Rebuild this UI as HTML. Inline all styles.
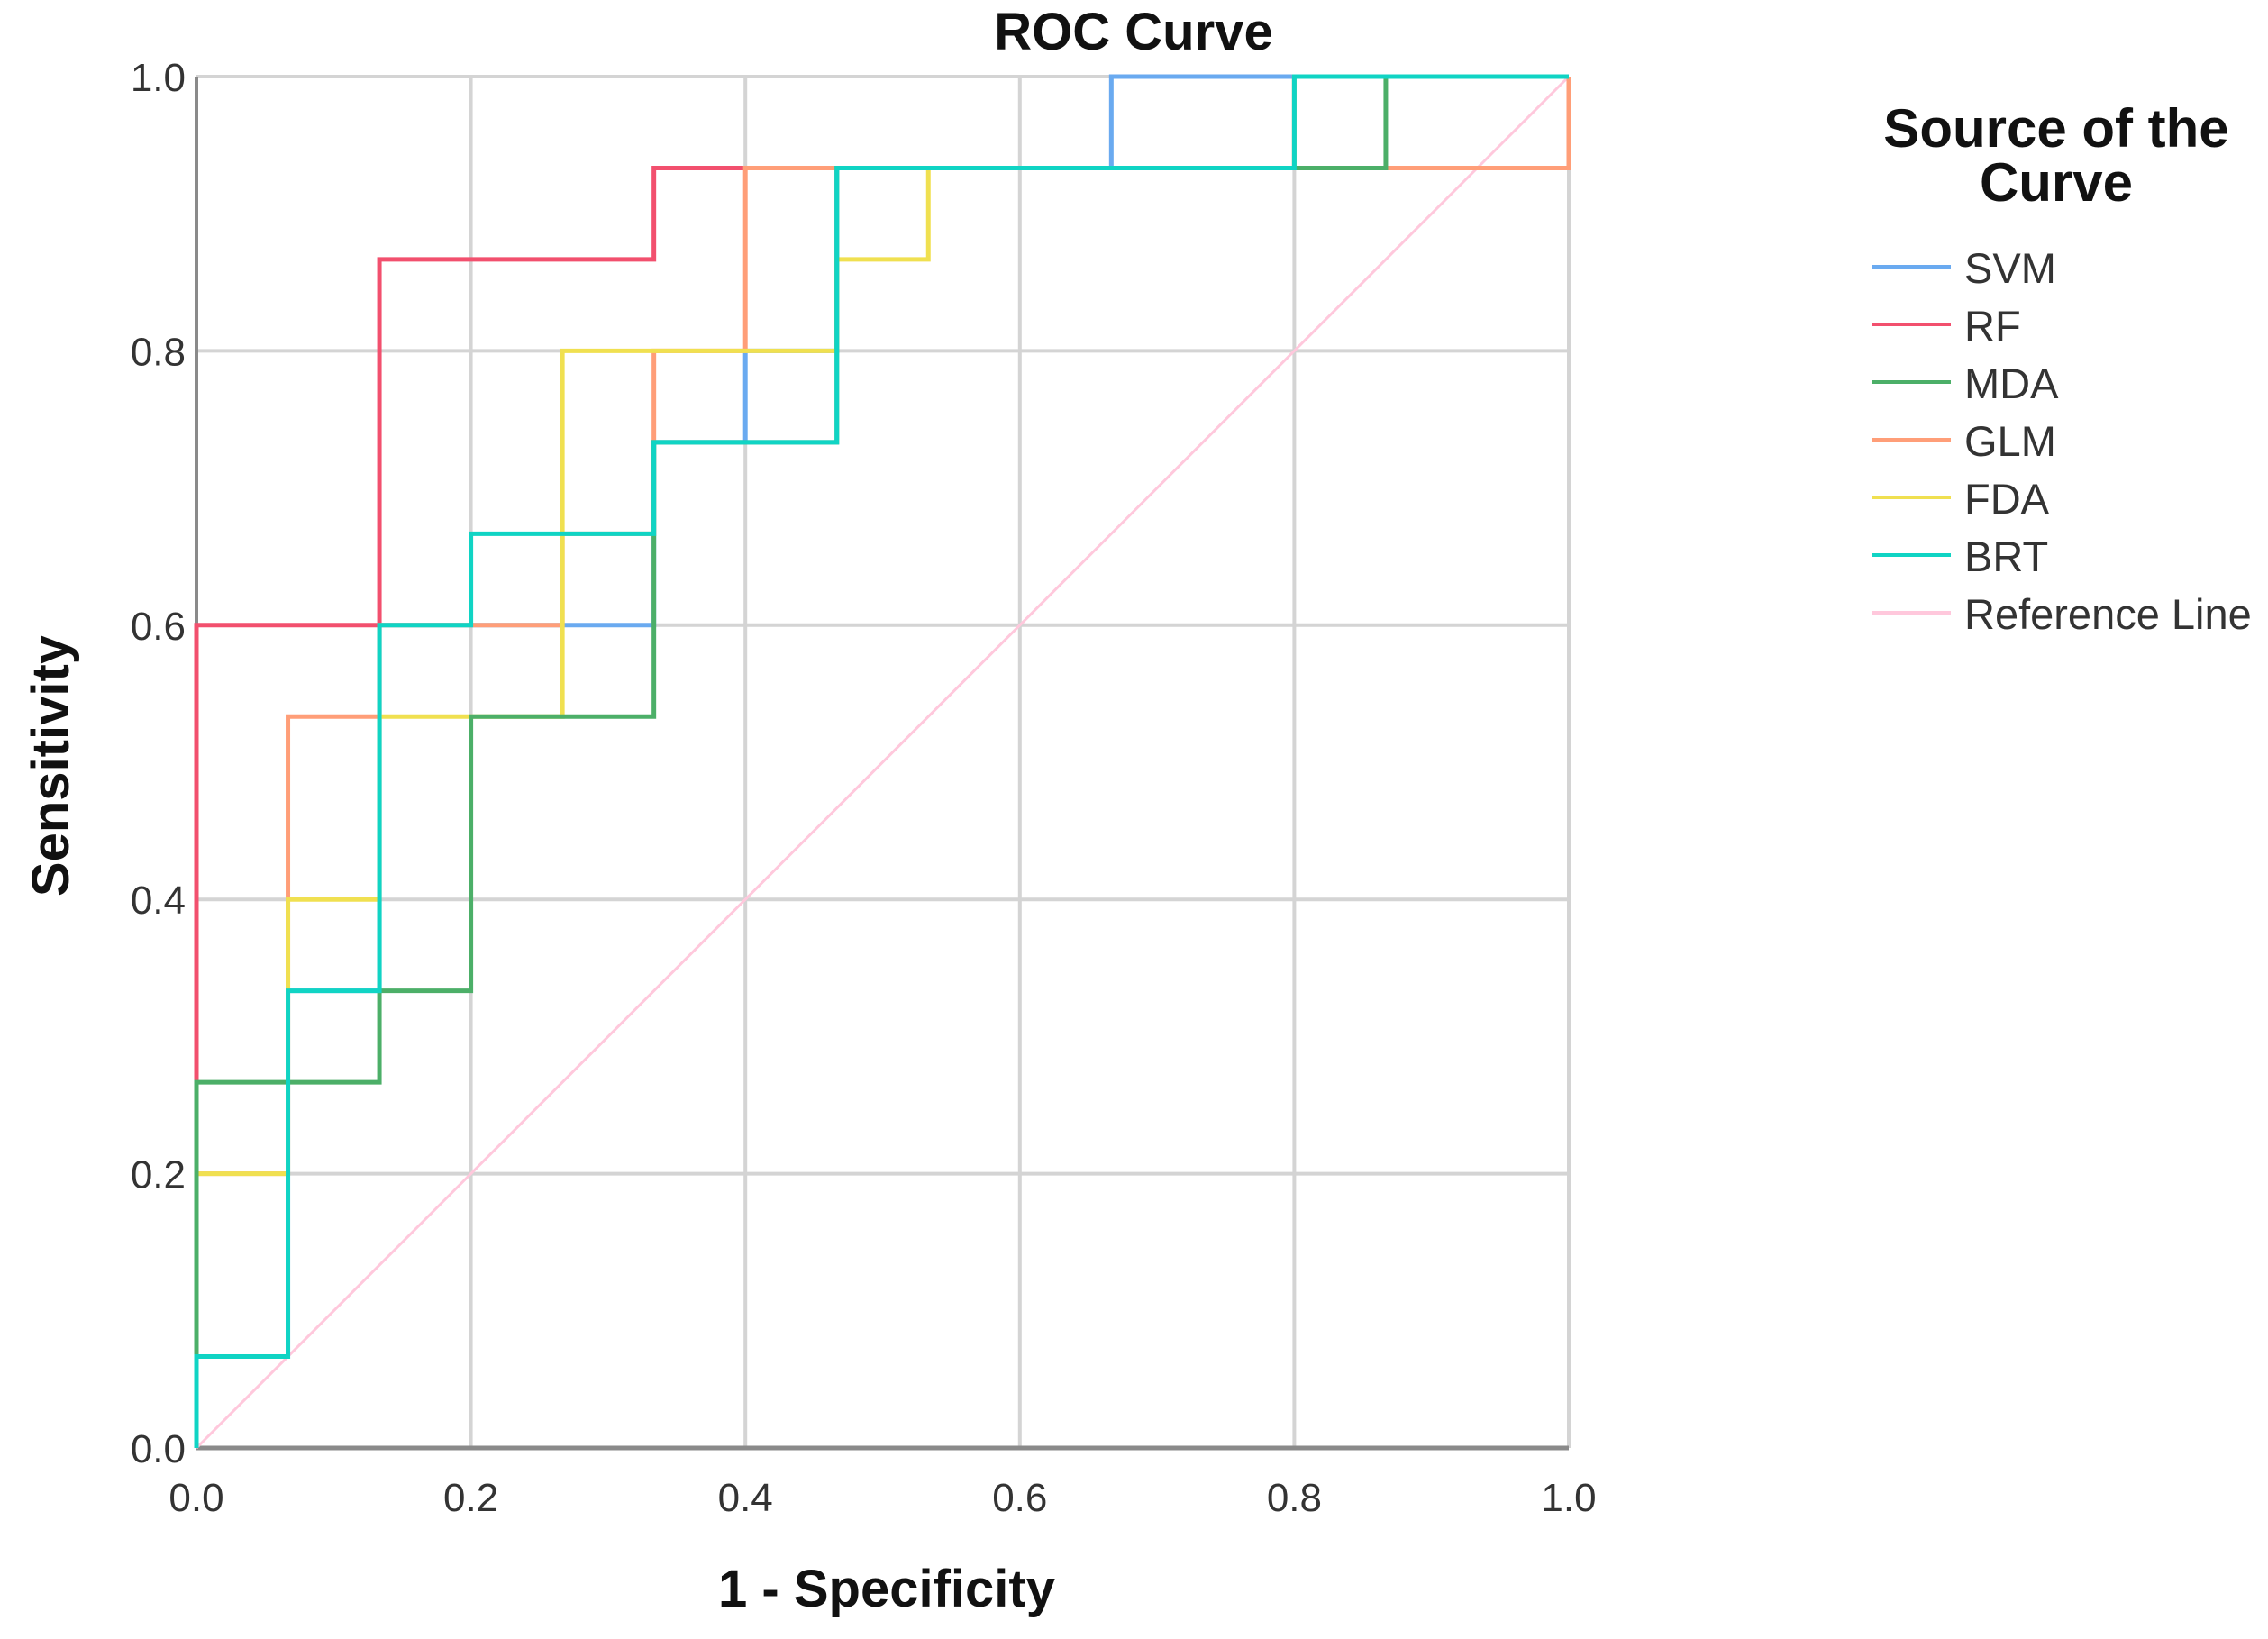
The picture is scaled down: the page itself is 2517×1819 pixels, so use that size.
<!DOCTYPE html>
<html><head><meta charset="utf-8"><style>
html,body{margin:0;padding:0;background:#fff;}
svg{display:block;font-family:"Liberation Sans",Arial,sans-serif;}
</style></head><body>
<svg id="chart" width="2517" height="1819" viewBox="0 0 2517 1819">
<text x="1258" y="55" font-size="58" font-weight="bold" text-anchor="middle" fill="#111">ROC Curve</text>
<g id="grid"></g>
<g id="series"></g>
<g id="ticks"></g>
<text x="984" y="1783" font-size="58" font-weight="bold" text-anchor="middle" fill="#111">1 - Specificity</text>
<text transform="translate(76,850) rotate(-90)" font-size="58" font-weight="bold" text-anchor="middle" fill="#111">Sensitivity</text>
<g>
<text x="2282" y="163" font-size="60" font-weight="bold" text-anchor="middle" fill="#111">Source of the</text>
<text x="2282" y="223" font-size="60" font-weight="bold" text-anchor="middle" fill="#111">Curve</text>
<g id="legend-entries"></g>
</g>
</svg>
<script>
const tickValues = [0, 0.2, 0.4, 0.6, 0.8, 1.0];
const tickLabels = ["0.0", "0.2", "0.4", "0.6", "0.8", "1.0"];
const seriesNames = ["SVM", "RF", "MDA", "GLM", "FDA", "BRT", "Reference Line"];
const seriesColors = ["#6aaaf0", "#f2506e", "#4caf68", "#ff9e78", "#f0e050", "#10d4c4", "#ffc8dc"];
const svmX = [0, 0, 1/15, 1/15, 2/15, 2/15, 5/15, 5/15, 6/15, 6/15, 7/15, 7/15, 10/15, 10/15, 1];
const svmY = [0, 1/15, 1/15, 5/15, 5/15, 9/15, 9/15, 11/15, 11/15, 12/15, 12/15, 14/15, 14/15, 1, 1];
const rfX = [0, 0, 2/15, 2/15, 5/15, 5/15, 12/15, 12/15, 1];
const rfY = [0, 9/15, 9/15, 13/15, 13/15, 14/15, 14/15, 1, 1];
const mdaX = [0, 0, 2/15, 2/15, 3/15, 3/15, 5/15, 5/15, 7/15, 7/15, 13/15, 13/15, 1];
const mdaY = [0, 4/15, 4/15, 5/15, 5/15, 8/15, 8/15, 11/15, 11/15, 14/15, 14/15, 1, 1];
const glmX = [0, 0, 1/15, 1/15, 2/15, 2/15, 4/15, 4/15, 5/15, 5/15, 6/15, 6/15, 1, 1];
const glmY = [0, 3/15, 3/15, 8/15, 8/15, 9/15, 9/15, 10/15, 10/15, 12/15, 12/15, 14/15, 14/15, 1];
const fdaX = [0, 0, 1/15, 1/15, 2/15, 2/15, 4/15, 4/15, 7/15, 7/15, 8/15, 8/15, 12/15, 12/15, 1];
const fdaY = [0, 3/15, 3/15, 6/15, 6/15, 8/15, 8/15, 12/15, 12/15, 13/15, 13/15, 14/15, 14/15, 1, 1];
const brtX = [0, 0, 1/15, 1/15, 2/15, 2/15, 3/15, 3/15, 5/15, 5/15, 7/15, 7/15, 12/15, 12/15, 1];
const brtY = [0, 1/15, 1/15, 5/15, 5/15, 9/15, 9/15, 10/15, 10/15, 11/15, 11/15, 14/15, 14/15, 1, 1];
const refX = [0, 1];
const refY = [0, 1];

const NS = "http://www.w3.org/2000/svg";
const X0 = 218, X1 = 1741, Y0 = 1607, Y1 = 85;
const sx = v => X0 + v * (X1 - X0);
const sy = v => Y0 - v * (Y0 - Y1);
function mk(tag, attrs, parent) {
  const e = document.createElementNS(NS, tag);
  for (const k in attrs) e.setAttribute(k, attrs[k]);
  parent.appendChild(e);
  return e;
}
const grid = document.getElementById("grid");
tickValues.forEach((t, i) => {
  const gv = mk("line", {x1: sx(t), x2: sx(t), y1: Y1, y2: Y0, stroke: "#d4d4d4", "stroke-width": 4}, grid);
  
  
  const gh = mk("line", {x1: X0, x2: X1, y1: sy(t), y2: sy(t), stroke: "#d4d4d4", "stroke-width": 4}, grid);
  
  
});
const ax1 = mk("line", {x1: X0, x2: X0, y1: Y1, y2: Y0, stroke: "#8a8a8a", "stroke-width": 4}, grid);


const ax2 = mk("line", {x1: X0, x2: X1, y1: Y0, y2: Y0, stroke: "#8a8a8a", "stroke-width": 5}, grid);



const ticks = document.getElementById("ticks");
tickValues.forEach((t, i) => {
  const tx = mk("text", {x: sx(t), y: Y0 + 70, "font-size": 44, "text-anchor": "middle", fill: "#333"}, ticks);
  tx.textContent = tickLabels[i];
  
  
  const ty = mk("text", {x: X0 - 12, y: sy(t) + 16, "font-size": 44, "text-anchor": "end", fill: "#333"}, ticks);
  ty.textContent = tickLabels[i];
  
  
});

const allX = [svmX, rfX, mdaX, glmX, fdaX, brtX, refX];
const allY = [svmY, rfY, mdaY, glmY, fdaY, brtY, refY];
const seriesG = document.getElementById("series");
const drawOrder = [6, 0, 1, 3, 4, 2, 5];
drawOrder.forEach(i => {
  const pts = allX[i].map((x, j) => sx(x) + "," + sy(allY[i][j])).join(" ");
  const pl = mk("polyline", {points: pts, fill: "none", stroke: seriesColors[i], "stroke-width": i === 6 ? 3 : 5, "stroke-linejoin": "miter"}, seriesG);
  
  
});

const leg = document.getElementById("legend-entries");
seriesNames.forEach((n, i) => {
  const y = 296 + i * 64;
  const g = mk("g", {}, leg);
  
  
  mk("line", {x1: 2077, x2: 2165, y1: y, y2: y, stroke: seriesColors[i], "stroke-width": 4}, g);
  const t = mk("text", {x: 2180, y: y + 18, "font-size": 47, fill: "#333"}, g);
  t.textContent = n;
});
</script>
</body></html>
